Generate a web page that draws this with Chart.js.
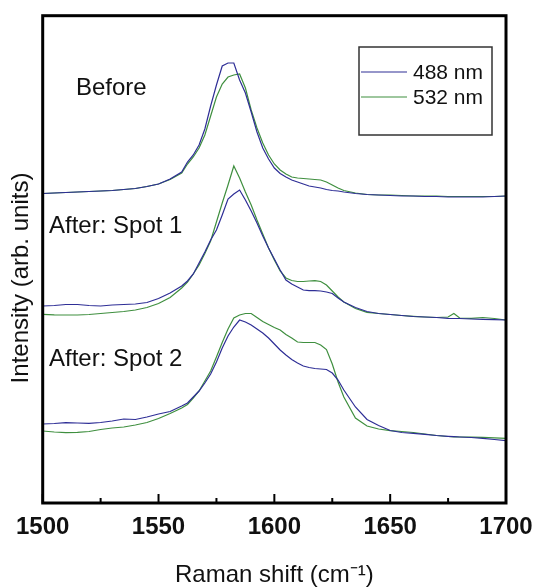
<!DOCTYPE html>
<html>
<head>
<meta charset="utf-8">
<script src="https://cdn.jsdelivr.net/npm/chart.js@4.4.0/dist/chart.umd.min.js"></script>
<style>
html, body { margin: 0; padding: 0; background: #fff; }
</style>
</head>
<body>
<canvas id="myChart" width="538" height="587"></canvas>
<script>
/* Raman shift grid (cm-1) */
const shift = [1500, 1505, 1510, 1515, 1520, 1525, 1530, 1535, 1540, 1545, 1550, 1555,
    1560, 1562.5, 1565, 1567.5, 1570, 1572.5, 1575, 1577.5, 1580, 1582.5, 1585, 1587.5,
    1590, 1592.5, 1595, 1597.5, 1600, 1602.5, 1605, 1607.5, 1610, 1612.5, 1615, 1617.5,
    1620, 1622.5, 1625, 1627.5, 1630, 1635, 1640, 1645, 1650, 1655, 1660, 1665, 1670,
    1675, 1677.5, 1680, 1685, 1690, 1695, 1700];

/* Intensities (arb. units, offset per spot) */
const before488 = [309.5, 310, 310.5, 311, 311.5, 312, 312.5, 313.5, 314.5, 316.5, 319, 324,
    331, 341, 348, 358, 374, 397, 418, 437, 440, 440, 423, 410,
    391, 371, 355, 344, 335, 329.5, 326, 323, 321, 319, 317, 316,
    315, 313.5, 312.5, 312, 311, 309.5, 308.5, 308, 307.5, 307, 307, 306.5, 306.5,
    306, 306, 306, 306, 306, 306.5, 307];
const before532 = [309.5, 310, 310.5, 311, 311.5, 312, 312.5, 313.5, 314.5, 316.5, 319, 323.5,
    330, 339, 346, 355, 368, 387, 406, 419, 426, 428, 429, 415,
    393, 375, 360, 348, 339, 333, 329, 326, 325, 324.5, 324, 323.5,
    323, 321, 318, 315, 312.5, 310, 308.5, 308, 308, 307.5, 307, 307, 307,
    306.5, 306.5, 306.5, 306.5, 306.5, 306.5, 307];
const spot1_488 = [197, 197.5, 198.5, 198.5, 197.5, 197, 198, 198.5, 199, 200.5, 204.5, 210,
    217, 222, 229, 240, 251, 263, 273, 288, 304, 309, 313, 303,
    292, 280, 267, 255, 244, 233, 223, 219, 216, 213, 212.3, 212.3,
    212, 211, 209.5, 205, 201, 195.5, 191.5, 189.5, 188.5, 187.5, 186.5, 186, 185.5,
    184.7, 184.5, 184.5, 184, 183.7, 183.3, 183];
const spot1_532 = [188.7, 188.2, 188, 188, 188.5, 189.5, 190.5, 191.5, 193, 195.5, 199.5, 205.5,
    215, 221, 229, 238, 249.5, 262, 281, 300, 318, 337, 325, 311,
    298, 283, 269, 255, 243, 232, 225, 222.5, 221.5, 221.5, 222, 222.3,
    221.5, 218, 212, 206, 201, 194.5, 190.7, 189.5, 188.5, 187.5, 186.7, 186, 185.5,
    186, 189.5, 185, 184.7, 185.5, 184.5, 183];
const spot2_488 = [79, 79.5, 80.3, 80, 79.7, 80.5, 82, 84, 83.5, 86, 89, 91.5,
    97, 100, 106, 112, 120, 129, 141, 155, 167, 176, 183, 181,
    178, 174, 170, 165, 159, 153, 148, 143.5, 140, 137, 135.5, 134.5,
    134, 133.5, 130, 123, 113, 96, 83.5, 77.5, 72.5, 70.5, 69.7, 68.7, 67.5,
    66.7, 66.3, 66, 65.5, 64.7, 63.5, 62.3];
const spot2_532 = [72, 71, 70.3, 70.7, 71.5, 73.5, 75, 76, 78, 80.5, 84.5, 89.5,
    95, 98.5, 105, 112, 122, 132, 146, 160.5, 174, 185, 188, 189.5,
    189.5, 185.5, 181.5, 178.5, 175.5, 173, 168.5, 165, 161, 160.5, 160.5, 160.5,
    158, 153.5, 139, 121, 106, 85, 77, 74, 72.3, 71.5, 70.5, 69, 67.5,
    66.5, 66.2, 66, 65.8, 65.7, 65.2, 64.7];

const seriesNames = ['488 nm', '532 nm'];
const seriesColors = ['#2e2e96', '#3f8f3f'];
const spotLabels = ['Before', 'After: Spot 1', 'After: Spot 2'];

const puntos = (ys) => shift.map((x, i) => ({ x: x, y: ys[i] }));

const linea = (ys, k) => ({
    label: seriesNames[k],
    data: puntos(ys),
    borderColor: seriesColors[k],
    borderWidth: 1.2,
    pointRadius: 0,
    tension: 0,
    fill: false
});

const datasets = [
    linea(before488, 0), linea(before532, 1),
    linea(spot1_488, 0), linea(spot1_532, 1),
    linea(spot2_488, 0), linea(spot2_532, 1)
];

const FONT = "'Liberation Sans', Arial, sans-serif";

/* Marco, ticks internos, titulo Y, textos y leyenda */
const decor = {
    id: 'decor',
    afterDraw(chart) {
        const ctx = chart.ctx;
        const a = chart.chartArea;
        const sx = chart.scales.x;
        ctx.save();
        // ticks hacia dentro
        ctx.strokeStyle = '#000';
        ctx.lineWidth = 2;
        for (let v = 1500; v <= 1700; v += 25) {
            const px = sx.getPixelForValue(v);
            const len = (v % 50 === 0) ? 9 : 5;
            ctx.beginPath();
            ctx.moveTo(px, a.bottom);
            ctx.lineTo(px, a.bottom - len);
            ctx.stroke();
        }
        // marco
        ctx.lineWidth = 3;
        ctx.strokeRect(a.left, a.top, a.right - a.left, a.bottom - a.top);

        // titulo eje Y
        ctx.fillStyle = '#111';
        ctx.font = '24px ' + FONT;
        ctx.textAlign = 'center';
        ctx.textBaseline = 'middle';
        ctx.translate(21, 278);
        ctx.rotate(-Math.PI / 2);
        ctx.fillText('Intensity (arb. units)', 0, 0);
        ctx.setTransform(1, 0, 0, 1, 0, 0);

        // etiquetas de cada espectro
        ctx.textAlign = 'left';
        ctx.textBaseline = 'alphabetic';
        ctx.fillText(spotLabels[0], 76, 95);
        ctx.fillText(spotLabels[1], 49, 233);
        ctx.fillText(spotLabels[2], 49, 366);

        // leyenda
        ctx.strokeStyle = '#333';
        ctx.lineWidth = 1.5;
        ctx.strokeRect(359, 47, 133, 88);
        ctx.font = '21px ' + FONT;
        ctx.textBaseline = 'middle';
        for (let k = 0; k < 2; k++) {
            const y = 72 + k * 25;
            ctx.strokeStyle = seriesColors[k];
            ctx.lineWidth = 1.2;
            ctx.beginPath();
            ctx.moveTo(361, y);
            ctx.lineTo(407, y);
            ctx.stroke();
            ctx.fillStyle = '#111';
            ctx.fillText(seriesNames[k], 413, y + 1);
        }
        ctx.restore();
    }
};

const config = {
    type: 'line',
    data: { datasets: datasets },
    options: {
        responsive: false,
        animation: false,
        devicePixelRatio: 1,
        layout: { padding: { top: 15.7, right: 32, left: 0, bottom: 0 } },
        plugins: { legend: { display: false }, tooltip: { enabled: false } },
        scales: {
            x: {
                type: 'linear',
                min: 1500,
                max: 1700,
                grid: { display: false, drawTicks: false },
                border: { display: false },
                ticks: {
                    stepSize: 50,
                    maxRotation: 0,
                    padding: 10,
                    color: '#111',
                    font: { family: FONT, size: 24, weight: 'bold' },
                    callback: (v) => String(v)
                },
                title: {
                    display: true,
                    text: 'Raman shift (cm\u207B\u00B9)',
                    color: '#111',
                    font: { family: FONT, size: 24, lineHeight: 1 },
                    padding: { top: 0, bottom: 0 }
                },
                afterFit(scale) {
                    scale.height = 84;
                    scale.paddingLeft = 0;
                    scale.paddingRight = 0;
                }
            },
            y: {
                min: 0,
                max: 487.3,
                grid: { display: false, drawTicks: false },
                border: { display: false },
                ticks: { display: false },
                afterFit(scale) { scale.width = 42.7; }
            }
        }
    },
    plugins: [decor]
};

let myChart = new Chart(document.getElementById('myChart'), config);
</script>
</body>
</html>
